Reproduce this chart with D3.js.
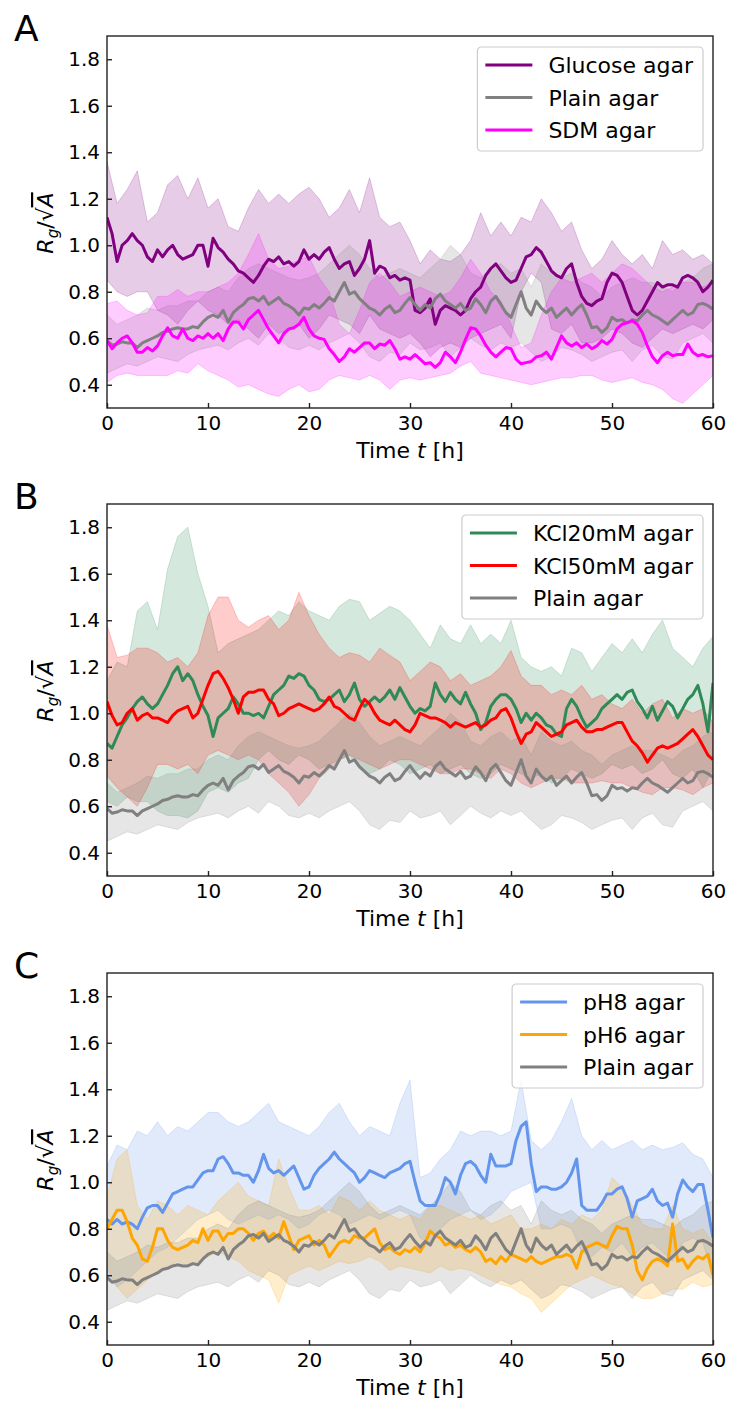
<!DOCTYPE html>
<html>
<head>
<meta charset="utf-8">
<script src="https://cdn.jsdelivr.net/npm/d3@7"></script>
<style>
  body { margin: 0; background: #fff; }
  svg { display: block; font-family: "DejaVu Sans", sans-serif; }
</style>
</head>
<body>
<div id="container"></div>
<script>
// sampling grids: mean curves every 0.5 h, band edges every 1 h
var meanT = d3.range(0, 60.001, 0.5);
var bandT = d3.range(0, 61, 1);

// ---- Plain agar (same reference curve in all panels)
var plainMean = [0.59,0.57,0.575,0.585,0.58,0.58,0.56,0.58,0.59,0.60,
  0.61,0.625,0.63,0.64,0.645,0.64,0.64,0.65,0.645,0.67,
  0.69,0.70,0.69,0.72,0.67,0.71,0.73,0.745,0.77,0.775,
  0.76,0.78,0.745,0.76,0.775,0.75,0.74,0.725,0.70,0.73,
  0.725,0.745,0.73,0.75,0.775,0.76,0.80,0.84,0.79,0.80,
  0.77,0.75,0.73,0.72,0.70,0.725,0.74,0.71,0.72,0.75,
  0.775,0.745,0.72,0.745,0.73,0.77,0.79,0.76,0.745,0.73,
  0.75,0.72,0.73,0.77,0.745,0.71,0.76,0.78,0.745,0.71,
  0.69,0.745,0.80,0.73,0.70,0.76,0.73,0.71,0.73,0.69,
  0.71,0.73,0.70,0.725,0.745,0.70,0.645,0.65,0.625,0.645,
  0.69,0.675,0.68,0.665,0.68,0.675,0.70,0.72,0.70,0.69,
  0.675,0.66,0.68,0.70,0.72,0.70,0.71,0.745,0.75,0.74,
  0.725];
var plainLow = [0.45,0.47,0.49,0.48,0.50,0.52,0.51,0.50,0.53,0.55,
  0.56,0.57,0.55,0.58,0.60,0.57,0.62,0.60,0.56,0.55,
  0.57,0.55,0.58,0.60,0.62,0.58,0.52,0.50,0.54,0.53,
  0.58,0.55,0.56,0.58,0.52,0.56,0.60,0.57,0.55,0.58,
  0.56,0.58,0.54,0.50,0.52,0.56,0.55,0.53,0.50,0.52,
  0.54,0.55,0.50,0.55,0.57,0.52,0.51,0.58,0.60,0.62,
  0.58];
var plainHigh = [0.70,0.66,0.68,0.70,0.73,0.72,0.74,0.74,0.76,0.76,
  0.80,0.82,0.80,0.86,0.90,0.92,0.90,0.88,0.86,0.85,
  0.86,0.88,0.92,0.96,1.00,0.96,0.90,0.86,0.88,0.90,
  0.88,0.86,0.90,0.94,1.00,0.96,0.88,0.86,0.90,0.92,
  0.88,0.90,0.82,0.92,0.88,0.86,0.88,0.84,0.82,0.78,
  0.82,0.84,0.86,0.84,0.84,0.82,0.80,0.84,0.86,0.90,
  0.92];

// ---- Panel A
var glucoseMean = [1.12,1.05,0.93,1.00,1.02,1.05,1.02,1.00,0.95,0.93,
  0.98,0.95,0.98,1.00,0.96,0.94,0.95,0.96,1.00,1.00,
  0.91,1.03,0.99,0.97,0.94,0.92,0.89,0.88,0.86,0.84,
  0.87,0.91,0.94,0.93,0.95,0.92,0.93,0.91,0.93,0.98,
  0.94,0.96,0.94,0.97,0.99,0.94,0.90,0.92,0.93,0.87,
  0.90,0.94,1.02,0.88,0.91,0.90,0.86,0.87,0.85,0.86,
  0.85,0.72,0.71,0.73,0.77,0.66,0.72,0.74,0.73,0.72,
  0.70,0.72,0.77,0.80,0.82,0.87,0.90,0.92,0.89,0.86,
  0.84,0.85,0.90,0.95,0.96,0.99,0.97,0.93,0.89,0.87,
  0.86,0.90,0.92,0.84,0.78,0.75,0.74,0.76,0.77,0.84,
  0.88,0.87,0.84,0.78,0.72,0.70,0.72,0.76,0.80,0.84,
  0.82,0.83,0.83,0.82,0.86,0.87,0.86,0.84,0.80,0.82,
  0.85];
var glucoseLow = [0.85,0.80,0.78,0.80,0.80,0.72,0.70,0.66,0.72,0.76,
  0.72,0.70,0.66,0.68,0.64,0.60,0.66,0.62,0.64,0.66,
  0.60,0.64,0.70,0.68,0.66,0.62,0.70,0.64,0.62,0.60,
  0.62,0.58,0.52,0.56,0.58,0.56,0.60,0.62,0.64,0.66,
  0.60,0.80,0.88,0.84,0.64,0.62,0.66,0.58,0.58,0.60,
  0.64,0.62,0.58,0.56,0.60,0.64,0.62,0.64,0.66,0.64,
  0.68];
var glucoseHigh = [1.36,1.18,1.24,1.32,1.10,1.14,1.26,1.30,1.20,1.29,
  1.16,1.20,1.08,1.06,1.16,1.24,1.18,1.22,1.18,1.22,
  1.25,1.20,1.12,1.16,1.24,1.14,1.29,1.12,1.08,1.10,
  1.02,0.92,0.98,0.94,0.93,0.96,1.02,1.14,1.04,1.10,
  1.04,1.12,1.10,1.20,1.14,1.06,1.10,0.98,0.90,0.94,
  1.02,0.96,0.92,0.96,0.90,1.02,0.96,0.98,0.94,0.96,
  0.92];
var sdmMean = [0.59,0.555,0.58,0.60,0.61,0.58,0.54,0.54,0.56,0.545,
  0.567,0.61,0.645,0.61,0.60,0.64,0.60,0.59,0.61,0.60,
  0.62,0.60,0.62,0.59,0.64,0.67,0.67,0.64,0.68,0.70,
  0.72,0.68,0.64,0.61,0.58,0.62,0.64,0.645,0.66,0.69,
  0.64,0.61,0.60,0.595,0.555,0.53,0.50,0.52,0.555,0.54,
  0.56,0.58,0.58,0.555,0.575,0.57,0.59,0.555,0.51,0.52,
  0.51,0.53,0.51,0.49,0.495,0.475,0.495,0.54,0.52,0.495,
  0.54,0.595,0.645,0.64,0.61,0.57,0.54,0.52,0.54,0.56,
  0.555,0.51,0.49,0.495,0.50,0.52,0.525,0.54,0.51,0.56,
  0.61,0.58,0.567,0.58,0.56,0.575,0.555,0.567,0.59,0.575,
  0.595,0.64,0.66,0.667,0.675,0.66,0.625,0.567,0.52,0.495,
  0.525,0.54,0.525,0.53,0.53,0.575,0.54,0.525,0.53,0.52,
  0.525];
var sdmLow = [0.41,0.44,0.45,0.44,0.44,0.44,0.44,0.46,0.45,0.49,
  0.46,0.44,0.42,0.39,0.40,0.38,0.36,0.35,0.38,0.40,
  0.37,0.38,0.42,0.44,0.43,0.42,0.44,0.42,0.38,0.42,
  0.43,0.42,0.43,0.44,0.45,0.48,0.50,0.45,0.44,0.43,
  0.42,0.41,0.40,0.41,0.42,0.43,0.43,0.44,0.44,0.42,
  0.41,0.42,0.43,0.41,0.40,0.38,0.34,0.32,0.36,0.40,
  0.44];
var sdmHigh = [0.75,0.76,0.72,0.70,0.71,0.78,0.78,0.81,0.78,0.80,
  0.80,0.82,0.84,0.88,0.96,1.05,0.94,0.90,0.91,0.94,
  0.95,0.86,0.80,0.66,0.62,0.72,0.84,0.88,0.84,0.78,
  0.80,0.82,0.80,0.78,0.80,0.86,0.94,0.88,0.80,0.76,
  0.66,0.56,0.58,0.70,0.80,0.86,0.84,0.86,0.88,0.84,
  0.88,0.92,0.90,0.86,0.82,0.80,0.82,0.84,0.84,0.82,
  0.84];

// ---- Panel B
var kcl20Mean = [0.87,0.85,0.90,0.95,0.98,1.02,1.05,1.07,1.04,1.02,
  1.04,1.08,1.12,1.17,1.20,1.14,1.17,1.14,1.08,1.03,
  0.99,0.90,0.98,1.00,1.02,1.07,1.04,1.00,1.00,0.99,
  1.00,0.98,1.03,1.08,1.10,1.12,1.16,1.15,1.17,1.16,
  1.12,1.10,1.06,1.05,1.06,1.08,1.10,1.05,1.08,1.13,
  1.06,1.03,1.05,1.07,1.05,1.07,1.10,1.06,1.11,1.07,
  1.03,1.00,1.02,1.01,1.03,1.13,1.08,1.05,1.09,1.06,
  1.04,1.09,1.04,1.00,0.93,0.96,1.03,1.06,1.08,1.08,
  1.06,1.02,0.96,1.00,0.97,1.00,0.98,0.95,0.94,0.91,
  0.90,1.02,1.06,1.03,0.98,0.94,0.96,0.98,1.02,1.04,
  1.06,1.08,1.06,1.09,1.10,1.05,1.02,0.98,1.03,0.97,
  1.01,1.05,1.03,0.98,1.02,1.06,1.08,1.12,1.04,0.92,
  1.13];
var kcl20Low = [0.62,0.60,0.64,0.62,0.62,0.58,0.56,0.56,0.55,0.58,
  0.66,0.68,0.66,0.70,0.72,0.80,0.84,0.80,0.78,0.82,
  0.80,0.76,0.78,0.80,0.82,0.76,0.74,0.76,0.80,0.78,
  0.74,0.76,0.78,0.74,0.76,0.78,0.74,0.72,0.74,0.78,
  0.76,0.74,0.72,0.74,0.70,0.72,0.76,0.74,0.72,0.74,
  0.78,0.76,0.78,0.74,0.76,0.80,0.74,0.72,0.76,0.68,
  0.76];
var kcl20High = [1.14,1.22,1.20,1.44,1.48,1.36,1.62,1.76,1.80,1.60,
  1.46,1.26,1.30,1.32,1.34,1.36,1.40,1.44,1.42,1.48,
  1.44,1.42,1.40,1.46,1.49,1.48,1.40,1.43,1.46,1.44,
  1.40,1.34,1.28,1.38,1.32,1.30,1.38,1.30,1.34,1.30,
  1.40,1.24,1.20,1.18,1.20,1.16,1.28,1.26,1.18,1.24,
  1.30,1.26,1.32,1.26,1.34,1.40,1.28,1.24,1.20,1.28,
  1.33];
var kcl50Mean = [1.05,0.99,0.95,0.96,1.00,1.02,0.97,0.99,1.00,0.98,
  0.98,0.97,0.96,0.99,1.01,1.02,1.03,0.98,1.00,1.06,
  1.12,1.17,1.18,1.15,1.11,1.06,1.00,1.07,1.09,1.09,
  1.10,1.10,1.06,1.04,0.99,1.00,1.02,1.03,1.04,1.03,
  1.02,1.01,1.02,1.04,1.07,1.03,1.02,1.00,0.98,0.97,
  1.02,1.06,1.04,1.00,0.97,0.96,0.95,0.97,0.95,0.93,
  0.92,0.95,1.00,0.99,0.98,0.98,0.97,0.96,0.94,0.96,
  0.95,0.94,0.95,0.96,0.94,0.95,0.97,0.98,1.01,1.02,
  0.98,0.92,0.87,0.91,0.92,0.96,0.94,0.92,0.90,0.91,
  0.92,0.95,0.96,0.97,0.94,0.92,0.92,0.93,0.93,0.94,
  0.95,0.96,0.96,0.92,0.88,0.86,0.83,0.79,0.82,0.85,
  0.86,0.85,0.86,0.87,0.89,0.91,0.93,0.90,0.86,0.82,
  0.80];
var kcl50Low = [0.73,0.68,0.64,0.60,0.68,0.78,0.78,0.76,0.78,0.74,
  0.82,0.84,0.82,0.80,0.82,0.80,0.74,0.70,0.66,0.60,
  0.65,0.72,0.76,0.80,0.82,0.80,0.78,0.76,0.78,0.80,
  0.80,0.78,0.76,0.74,0.74,0.76,0.76,0.74,0.72,0.76,
  0.74,0.70,0.68,0.70,0.72,0.72,0.70,0.70,0.70,0.71,
  0.70,0.70,0.68,0.66,0.65,0.68,0.68,0.67,0.65,0.68,
  0.70];
var kcl50High = [1.38,1.24,1.25,1.28,1.28,1.26,1.22,1.24,1.20,1.26,
  1.42,1.50,1.50,1.40,1.37,1.40,1.42,1.36,1.40,1.52,
  1.42,1.34,1.28,1.24,1.26,1.25,1.22,1.28,1.25,1.22,
  1.14,1.18,1.22,1.20,1.14,1.17,1.12,1.14,1.16,1.20,
  1.27,1.16,1.12,1.12,1.08,1.10,1.08,1.12,1.06,1.08,
  1.04,1.02,1.06,1.00,1.04,1.06,0.98,1.02,1.00,1.02,
  0.96];

// ---- Panel C
var ph8Mean = [0.84,0.82,0.84,0.82,0.83,0.82,0.80,0.85,0.89,0.90,
  0.90,0.87,0.91,0.95,0.96,0.97,0.98,0.98,1.01,1.04,
  1.05,1.05,1.10,1.11,1.08,1.04,1.04,1.03,1.03,1.00,
  1.05,1.12,1.06,1.04,1.05,1.03,1.05,1.07,1.02,0.97,
  0.98,1.03,1.06,1.08,1.10,1.13,1.10,1.08,1.06,1.04,
  1.00,1.02,1.05,1.04,1.03,1.02,1.04,1.05,1.06,1.08,
  1.09,1.00,0.92,0.90,0.90,0.90,0.95,1.02,1.00,0.95,
  1.03,1.08,1.09,1.07,1.03,1.00,1.12,1.07,1.07,1.07,
  1.08,1.18,1.24,1.26,1.08,0.96,0.98,0.98,0.97,0.97,
  0.98,1.00,1.04,1.10,0.90,0.88,0.88,0.88,0.91,0.95,
  0.95,0.97,0.98,0.93,0.85,0.92,0.93,0.94,0.97,0.92,
  0.90,0.91,0.85,0.95,1.01,0.98,0.96,0.99,0.99,0.88,
  0.76];
var ph8Low = [0.60,0.55,0.58,0.62,0.66,0.70,0.72,0.76,0.80,0.84,
  0.86,0.88,0.84,0.82,0.84,0.86,0.84,0.86,0.84,0.80,
  0.82,0.86,0.88,0.86,0.82,0.84,0.86,0.84,0.86,0.88,
  0.86,0.76,0.74,0.80,0.84,0.86,0.88,0.84,0.86,0.90,
  0.96,0.98,1.00,0.80,0.80,0.82,0.80,0.70,0.68,0.72,
  0.70,0.74,0.68,0.72,0.74,0.70,0.66,0.74,0.76,0.74,
  0.60];
var ph8High = [1.07,1.16,1.14,1.22,1.20,1.26,1.20,1.24,1.22,1.26,
  1.30,1.30,1.26,1.24,1.26,1.30,1.34,1.26,1.24,1.22,
  1.20,1.24,1.30,1.34,1.26,1.20,1.24,1.22,1.20,1.34,
  1.44,1.02,1.04,1.10,1.14,1.22,1.20,1.22,1.22,1.20,
  1.22,1.44,1.18,1.14,1.18,1.26,1.36,1.20,1.14,1.18,
  1.14,1.16,1.18,1.14,1.16,1.14,1.15,1.17,1.12,1.10,
  1.02];
var ph6Mean = [0.80,0.84,0.88,0.88,0.83,0.76,0.73,0.67,0.66,0.72,
  0.80,0.80,0.75,0.72,0.71,0.72,0.73,0.75,0.74,0.80,
  0.75,0.79,0.79,0.75,0.78,0.78,0.80,0.80,0.78,0.75,
  0.78,0.79,0.76,0.78,0.76,0.83,0.77,0.71,0.75,0.76,
  0.77,0.73,0.75,0.73,0.68,0.71,0.74,0.75,0.74,0.77,
  0.76,0.76,0.78,0.80,0.74,0.71,0.72,0.70,0.69,0.71,
  0.70,0.72,0.70,0.74,0.79,0.77,0.76,0.73,0.74,0.72,
  0.73,0.71,0.70,0.72,0.70,0.66,0.67,0.65,0.68,0.66,
  0.69,0.68,0.67,0.66,0.68,0.66,0.65,0.66,0.67,0.68,
  0.68,0.69,0.68,0.63,0.70,0.72,0.73,0.74,0.73,0.72,
  0.77,0.81,0.80,0.80,0.73,0.62,0.58,0.63,0.66,0.67,
  0.66,0.64,0.82,0.66,0.67,0.63,0.66,0.68,0.67,0.69,
  0.60];
var ph6Low = [0.63,0.55,0.50,0.54,0.58,0.62,0.64,0.66,0.64,0.66,
  0.68,0.70,0.68,0.66,0.62,0.60,0.58,0.48,0.60,0.62,
  0.64,0.62,0.64,0.66,0.65,0.66,0.68,0.66,0.62,0.64,
  0.63,0.62,0.61,0.64,0.62,0.63,0.62,0.60,0.58,0.56,
  0.55,0.52,0.50,0.44,0.48,0.52,0.56,0.58,0.60,0.58,
  0.56,0.55,0.52,0.50,0.50,0.52,0.54,0.54,0.57,0.55,
  0.56];
var ph6High = [0.94,1.10,1.14,0.90,0.84,0.92,0.90,0.86,0.90,0.88,
  0.86,0.92,0.96,1.00,0.94,0.92,0.90,1.10,0.98,0.88,
  0.88,0.90,0.86,0.94,0.92,0.88,0.92,0.88,0.86,0.84,
  0.86,0.84,0.90,0.90,0.88,0.86,0.84,0.86,0.82,0.84,
  0.86,0.80,0.80,0.82,0.80,0.84,0.82,0.86,0.84,0.88,
  1.02,0.98,0.90,0.82,0.80,0.80,0.90,0.80,0.78,0.80,
  0.74];

var xTicks = [0, 10, 20, 30, 40, 50, 60];
var yTicks = [0.4, 0.6, 0.8, 1.0, 1.2, 1.4, 1.6, 1.8];

var plain = { name: "Plain agar", color: "#808080", mean: plainMean, low: plainLow, high: plainHigh };
var panels = [
  { label: "A", top: 36, series: [
    { name: "Glucose agar", color: "#800080", mean: glucoseMean, low: glucoseLow, high: glucoseHigh },
    plain,
    { name: "SDM agar", color: "#ff00ff", mean: sdmMean, low: sdmLow, high: sdmHigh }
  ]},
  { label: "B", top: 504, series: [
    { name: "KCl20mM agar", color: "#2e8b57", mean: kcl20Mean, low: kcl20Low, high: kcl20High },
    { name: "KCl50mM agar", color: "#ff0000", mean: kcl50Mean, low: kcl50Low, high: kcl50High },
    plain
  ]},
  { label: "C", top: 973, series: [
    { name: "pH8 agar", color: "#6495ed", mean: ph8Mean, low: ph8Low, high: ph8High },
    { name: "pH6 agar", color: "#ffa500", mean: ph6Mean, low: ph6Low, high: ph6High },
    plain
  ]}
];

var W = 731, H = 1401;
var left = 107, right = 713, plotH = 372;

var svg = d3.select("#container").append("svg")
  .attr("width", W)
  .attr("height", H);

panels.forEach(function (p, pi) {
  var top = p.top, bottom = top + plotH;
  var x = d3.scaleLinear().domain([0, 60]).range([left, right]);
  var y = d3.scaleLinear().domain([0.3, 1.9]).range([bottom, top]);

  svg.append("clipPath").attr("id", "clip" + pi)
    .append("rect")
    .attr("x", left).attr("y", top)
    .attr("width", right - left).attr("height", plotH);

  var g = svg.append("g").attr("clip-path", "url(#clip" + pi + ")");

  var area = d3.area()
    .x(function (d, i) { return x(bandT[i]); })
    .y0(function (d) { return y(d[0]); })
    .y1(function (d) { return y(d[1]); });
  var line = d3.line()
    .x(function (d, i) { return x(meanT[i]); })
    .y(function (d) { return y(d); });

  // shaded spread first, mean lines on top
  p.series.forEach(function (s) {
    var band = s.low.map(function (v, i) { return [v, s.high[i]]; });
    g.append("path")
      .datum(band)
      .attr("d", area)
      .attr("fill", s.color)
      .attr("fill-opacity", 0.2)
      .attr("stroke", s.color)
      .attr("stroke-opacity", 0.2)
      .attr("stroke-width", 1);
  });
  p.series.forEach(function (s) {
    g.append("path")
      .datum(s.mean)
      .attr("d", line)
      .attr("fill", "none")
      .attr("stroke", s.color)
      .attr("stroke-width", 3)
      .attr("stroke-linejoin", "round");
  });

  // axes with inward ticks
  var xAxis = d3.axisBottom(x).tickValues(xTicks).tickSizeInner(-5).tickSizeOuter(0).tickPadding(8);
  var yAxis = d3.axisLeft(y).tickValues(yTicks).tickFormat(d3.format(".1f"))
    .tickSizeInner(-5).tickSizeOuter(0).tickPadding(7);

  var gx = svg.append("g").attr("transform", "translate(0," + bottom + ")").call(xAxis);
  var gy = svg.append("g").attr("transform", "translate(" + left + ",0)").call(yAxis);
  [gx, gy].forEach(function (ax) {
    ax.select(".domain").remove();
    ax.selectAll("line").attr("stroke", "#222").attr("stroke-width", 1.4);
    ax.selectAll("text").attr("fill", "#000").style("font-size", "20px")
      .style("font-family", "'DejaVu Sans', sans-serif");
  });

  svg.append("rect")
    .attr("x", left).attr("y", top)
    .attr("width", right - left).attr("height", plotH)
    .attr("fill", "none")
    .attr("stroke", "#222")
    .attr("stroke-width", 1.4);

  // axis labels
  var xl = svg.append("text")
    .attr("x", (left + right) / 2)
    .attr("y", bottom + 50)
    .attr("text-anchor", "middle")
    .style("font-size", "22px");
  xl.append("tspan").text("Time ");
  xl.append("tspan").style("font-style", "italic").text("t");
  xl.append("tspan").text(" [h]");

  var yl = svg.append("text")
    .attr("transform", "translate(53," + (top + 187) + ") rotate(-90)")
    .attr("text-anchor", "middle")
    .style("font-size", "22px");
  yl.append("tspan").style("font-style", "italic").text("R");
  yl.append("tspan").style("font-style", "italic").style("font-size", "15px").attr("dy", 5).text("g");
  yl.append("tspan").attr("dy", -5).text("/\u221A");
  yl.append("tspan").style("font-style", "italic").style("text-decoration", "overline").text("A");

  // panel letter
  svg.append("text")
    .attr("x", 14)
    .attr("y", top + 5)
    .style("font-size", "36px")
    .text(p.label);

  // legend
  var lg = svg.append("g");
  var box = lg.append("rect")
    .attr("rx", 4).attr("ry", 4)
    .attr("fill", "#fff").attr("fill-opacity", 0.8)
    .attr("stroke", "#ccc").attr("stroke-width", 1.2);
  var texts = [];
  p.series.forEach(function (s, i) {
    var rowY = 18 + i * 32.5;
    lg.append("line")
      .attr("x1", 8).attr("x2", 55)
      .attr("y1", rowY).attr("y2", rowY)
      .attr("stroke", s.color).attr("stroke-width", 2.8);
    texts.push(lg.append("text")
      .attr("x", 71).attr("y", rowY + 8)
      .style("font-size", "22px")
      .text(s.name));
  });
  var maxW = d3.max(texts, function (t) { return t.node().getComputedTextLength(); });
  var bw = 71 + maxW + 10;
  box.attr("width", bw).attr("height", 104);
  lg.attr("transform", "translate(" + (right - 10 - bw) + "," + (top + 11) + ")");
});
</script>
</body>
</html>
